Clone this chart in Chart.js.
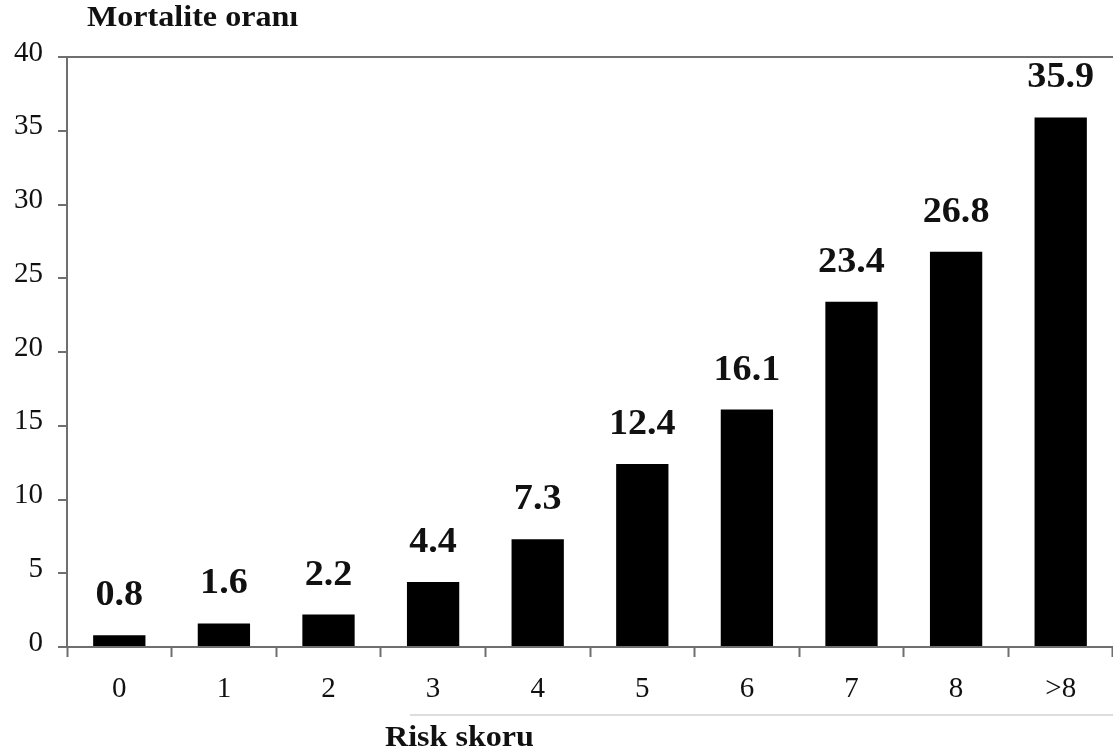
<!DOCTYPE html>
<html>
<head>
<meta charset="utf-8">
<script src="https://cdn.jsdelivr.net/npm/chart.js@4/dist/chart.umd.min.js"></script>
<style>
  html, body { margin: 0; padding: 0; background: #ffffff; }
  canvas { display: block; }
</style>
</head>
<body>
<canvas id="chart" width="1113" height="754"></canvas>
<script>
// Mortality rate by risk score
const categories = ['0', '1', '2', '3', '4', '5', '6', '7', '8', '>8'];
const mortality = [0.8, 1.6, 2.2, 4.4, 7.3, 12.4, 16.1, 23.4, 26.8, 35.9];
const yMin = 0;
const yMax = 40;
const yStep = 5;
const yTitle = 'Mortalite oranı';
const xTitle = 'Risk skoru';

const SERIF = '"Liberation Serif", "Times New Roman", Times, serif';
const AXIS_GRAY = '#6f6f6f';
const TEXT = '#111111';

// Draws text slightly widened, like the printed face of the original figure
function wideText(ctx, str, x, y, stretch) {
  ctx.save();
  ctx.translate(x, y);
  ctx.scale(stretch, 1);
  ctx.fillText(str, 0, 0);
  ctx.restore();
}

// Value labels above the bars, plus the two axis captions
const annotate = {
  id: 'annotate',
  afterDatasetsDraw(chart) {
    const { ctx, chartArea } = chart;
    const meta = chart.getDatasetMeta(0);
    ctx.save();
    ctx.fillStyle = TEXT;
    ctx.font = 'bold 36px ' + SERIF;
    ctx.textAlign = 'center';
    ctx.textBaseline = 'alphabetic';
    meta.data.forEach((bar, i) => {
      wideText(ctx, mortality[i].toFixed(1), bar.x, bar.y - 30, 1.06);
    });

    // y caption above the plot
    ctx.font = 'bold 30px ' + SERIF;
    ctx.textAlign = 'left';
    wideText(ctx, yTitle, chartArea.left + 20, chartArea.top - 31, 1.07);

    // thin rule under the category labels
    ctx.strokeStyle = '#dddddd';
    ctx.lineWidth = 2;
    ctx.beginPath();
    ctx.moveTo(chartArea.left + 343, chartArea.bottom + 68);
    ctx.lineTo(chart.width, chartArea.bottom + 68);
    ctx.stroke();

    // x caption
    ctx.font = 'bold 30px ' + SERIF;
    ctx.textAlign = 'left';
    wideText(ctx, xTitle, chartArea.left + 318, chartArea.bottom + 99, 1.07);
    ctx.restore();
  }
};

new Chart(document.getElementById('chart'), {
  type: 'bar',
  data: {
    labels: categories,
    datasets: [{
      data: mortality,
      backgroundColor: '#000000',
      borderWidth: 0,
      barPercentage: 0.5,
      categoryPercentage: 1.0
    }]
  },
  options: {
    responsive: false,
    animation: false,
    devicePixelRatio: 1,
    layout: { padding: { top: 57, left: 0, right: 0, bottom: 0 } },
    plugins: {
      legend: { display: false },
      title: { display: false },
      tooltip: { enabled: false }
    },
    scales: {
      x: {
        offset: true,
        grid: {
          offset: true,
          color: 'transparent',
          drawTicks: true,
          tickLength: 10,
          tickColor: AXIS_GRAY,
          tickWidth: 2
        },
        border: { display: true, color: AXIS_GRAY, width: 2 },
        ticks: {
          color: TEXT,
          font: { family: SERIF, size: 29 },
          padding: 15,
          maxRotation: 0,
          autoSkip: false
        },
        afterFit(scale) { scale.height = 107; }
      },
      y: {
        min: yMin,
        max: yMax,
        grid: {
          color: (c) => (c.tick && c.tick.value === yMax ? AXIS_GRAY : 'transparent'),
          lineWidth: 2,
          drawTicks: true,
          tickLength: 9,
          tickColor: AXIS_GRAY,
          tickWidth: 2
        },
        border: { display: true, color: AXIS_GRAY, width: 2 },
        ticks: {
          stepSize: yStep,
          color: TEXT,
          font: { family: SERIF, size: 29 },
          padding: 15,
          labelOffset: -4
        },
        afterFit(scale) { scale.width = 67; }
      }
    }
  },
  plugins: [annotate]
});
</script>
</body>
</html>
